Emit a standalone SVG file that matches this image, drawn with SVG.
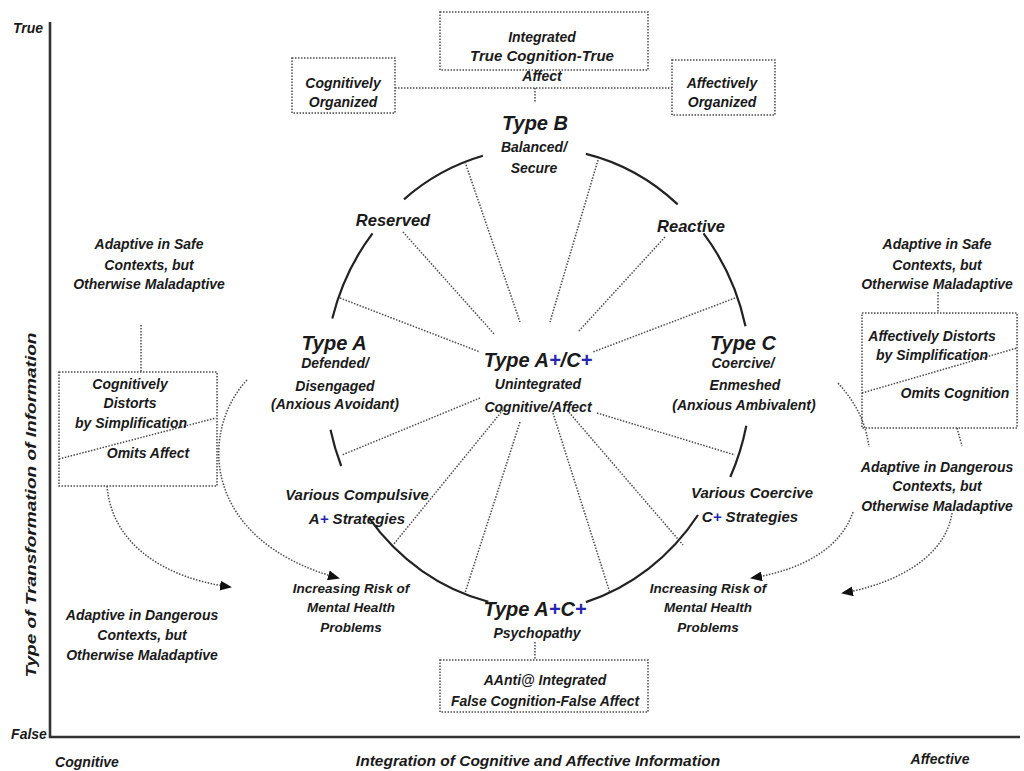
<svg xmlns="http://www.w3.org/2000/svg" width="1024" height="771" viewBox="0 0 1024 771">
<style>
.t{font-family:"Liberation Sans",Arial,sans-serif;font-weight:bold;font-style:italic;fill:#1a1a1a;text-anchor:middle}
.big{font-size:20px}
.lab{font-size:16.5px}
.mid{font-size:15px}
.sub{font-size:14px}
.ax{font-size:15.5px}
.sm{font-size:13.5px}
.bl{fill:#2626b0}
.dot{fill:none;stroke:#4a4a4a;stroke-width:1.5;stroke-dasharray:1.5 1.5}
.box{fill:none;stroke:#4a4a4a;stroke-width:1.5;stroke-dasharray:1.5 1.5}
.arc{fill:none;stroke:#222;stroke-width:2.2}
.axis{stroke:#333;stroke-width:2.6;fill:none}
</style>
<defs>
<marker id="ah" markerUnits="userSpaceOnUse" markerWidth="12" markerHeight="10" refX="10" refY="5" orient="auto">
<path d="M0,0 L12,5 L0,10 z" fill="#111"/>
</marker>
</defs>
<rect width="1024" height="771" fill="#fff"/>

<g id="axes">
<path class="axis" d="M50,22 V737 H1020"/>
<text class="t sub" x="28" y="33">True</text>
<text class="t sub" x="29" y="739">False</text>
<text class="t sub" x="87" y="767">Cognitive</text>
<text class="t ax" x="538" y="766">Integration of Cognitive and Affective Information</text>
<text class="t sub" x="940" y="764">Affective</text>
<text class="t ax" transform="translate(36,505) rotate(-90)" textLength="345" lengthAdjust="spacingAndGlyphs">Type of Transformation of Information</text>
</g>

<g id="connectors">
<path class="arc" d="M404,199.3 A213,230 0 0 1 482.9,155.8"/>
<path class="arc" d="M585.9,153.9 A213,230 0 0 1 677.7,204.4"/>
<path class="arc" d="M332.3,318.5 A213,230 0 0 1 372.5,233.3"/>
<path class="arc" d="M703.5,233.3 A213,230 0 0 1 745.5,326.3"/>
<path class="arc" d="M341.2,466 A213,230 0 0 1 330.5,429.8"/>
<path class="arc" d="M746.3,425.8 A213,230 0 0 1 730.3,477"/>
<path class="arc" d="M488.3,601.7 A213,230 0 0 1 368.8,517.7"/>
<path class="arc" d="M698,515 A213,230 0 0 1 585.9,602.1"/>

<path class="dot" d="M465,162 L520,322"/>
<path class="dot" d="M598,160 L550,322"/>
<path class="dot" d="M403,232 L495,335"/>
<path class="dot" d="M665,237 L578,332"/>
<path class="dot" d="M340,298 L480,352"/>
<path class="dot" d="M735,298 L593,352"/>
<path class="dot" d="M480,398 L342,455"/>
<path class="dot" d="M597,413 L735,455"/>
<path class="dot" d="M503,410 L393,545"/>
<path class="dot" d="M520,422 L465,593"/>
<path class="dot" d="M553,413 L610,593"/>
<path class="dot" d="M567,410 L683,545"/>

<path class="dot" d="M395,88 H672"/>
<path class="dot" d="M535,88 V102"/>
<path class="dot" d="M535,642 V660"/>
<path class="dot" d="M141,325 V372"/>
<path class="dot" d="M938,292 V313"/>
<path class="dot" d="M59,459 L216,418"/>
<path class="dot" d="M862,393 L1017,348"/>

<path class="dot" d="M107,486 C112,545 165,578 230,587" marker-end="url(#ah)"/>
<path class="dot" d="M247,380 C200,430 200,540 338,578" marker-end="url(#ah)"/>
<path class="dot" d="M957,428 L962,446"/>
<path class="dot" d="M952,513 C945,560 890,585 843,593" marker-end="url(#ah)"/>
<path class="dot" d="M838,383 C858,405 866,425 869,447"/>
<path class="dot" d="M853,512 C840,550 800,570 752,578" marker-end="url(#ah)"/>
</g>

<g id="node-integrated">
<rect class="box" x="440" y="12" width="208" height="58"/>
<text class="t sub" x="542" y="42">Integrated</text>
<text class="t sub" x="542" y="61" textLength="144" lengthAdjust="spacingAndGlyphs">True Cognition-True</text>
<text class="t sub" x="542" y="81">Affect</text>
</g>
<g id="node-cog-org">
<rect class="box" x="292" y="58" width="103" height="55"/>
<text class="t sub" x="343" y="88">Cognitively</text>
<text class="t sub" x="343" y="107">Organized</text>
</g>
<g id="node-aff-org">
<rect class="box" x="672" y="60" width="103" height="55"/>
<text class="t sub" x="722" y="88">Affectively</text>
<text class="t sub" x="722" y="107">Organized</text>
</g>
<g id="node-typeB">
<text class="t big" x="535" y="130">Type B</text>
<text class="t sub" x="534" y="152">Balanced/</text>
<text class="t sub" x="534" y="173">Secure</text>
</g>
<g id="node-reserved"><text class="t lab" x="393" y="226">Reserved</text></g>
<g id="node-reactive"><text class="t lab" x="691" y="232">Reactive</text></g>
<g id="node-typeA">
<text class="t big" x="334" y="350">Type A</text>
<text class="t sub" x="335" y="368">Defended/</text>
<text class="t sub" x="335" y="391">Disengaged</text>
<text class="t sub" x="335" y="409">(Anxious Avoidant)</text>
</g>
<g id="node-typeAC">
<text class="t big" x="538" y="367">Type A<tspan class="bl">+</tspan>/C<tspan class="bl">+</tspan></text>
<text class="t sub" x="538" y="389">Unintegrated</text>
<text class="t sub" x="538" y="412">Cognitive/Affect</text>
</g>
<g id="node-typeC">
<text class="t big" x="743" y="350">Type C</text>
<text class="t sub" x="743" y="368">Coercive/</text>
<text class="t sub" x="745" y="390">Enmeshed</text>
<text class="t sub" x="744" y="410">(Anxious Ambivalent)</text>
</g>
<g id="node-compulsive">
<text class="t mid" x="357" y="500">Various Compulsive</text>
<text class="t mid" x="357" y="524">A<tspan class="bl">+</tspan> Strategies</text>
</g>
<g id="node-coercive">
<text class="t mid" x="752" y="498">Various Coercive</text>
<text class="t mid" x="750" y="522">C<tspan class="bl">+</tspan> Strategies</text>
</g>
<g id="node-typeApC">
<text class="t big" x="535" y="616">Type A<tspan class="bl">+</tspan>C<tspan class="bl">+</tspan></text>
<text class="t sub" x="537" y="638">Psychopathy</text>
</g>
<g id="node-anti">
<rect class="box" x="440" y="660" width="208" height="52"/>
<text class="t sub" x="545" y="685">AAnti@ Integrated</text>
<text class="t sub" x="545" y="706">False Cognition-False Affect</text>
</g>
<g id="node-risk-left">
<text class="t sm" x="351" y="593">Increasing Risk of</text>
<text class="t sm" x="351" y="612">Mental Health</text>
<text class="t sm" x="351" y="632">Problems</text>
</g>
<g id="node-risk-right">
<text class="t sm" x="708" y="593">Increasing Risk of</text>
<text class="t sm" x="708" y="612">Mental Health</text>
<text class="t sm" x="708" y="632">Problems</text>
</g>
<g id="node-safe-left">
<text class="t sub" x="149" y="249">Adaptive in Safe</text>
<text class="t sub" x="149" y="270">Contexts, but</text>
<text class="t sub" x="149" y="289">Otherwise Maladaptive</text>
</g>
<g id="node-cog-distorts">
<rect class="box" x="59" y="372" width="158" height="114"/>
<text class="t sub" x="130" y="389">Cognitively</text>
<text class="t sub" x="130" y="408">Distorts</text>
<text class="t sub" x="131" y="428">by Simplification</text>
<text class="t sub" x="148" y="458">Omits Affect</text>
</g>
<g id="node-danger-left">
<text class="t sub" x="142" y="620">Adaptive in Dangerous</text>
<text class="t sub" x="142" y="640">Contexts, but</text>
<text class="t sub" x="142" y="660">Otherwise Maladaptive</text>
</g>
<g id="node-safe-right">
<text class="t sub" x="937" y="249">Adaptive in Safe</text>
<text class="t sub" x="937" y="270">Contexts, but</text>
<text class="t sub" x="937" y="289">Otherwise Maladaptive</text>
</g>
<g id="node-aff-distorts">
<rect class="box" x="862" y="313" width="155" height="115"/>
<text class="t sub" x="932" y="341">Affectively Distorts</text>
<text class="t sub" x="932" y="360">by Simplification</text>
<text class="t sub" x="955" y="398">Omits Cognition</text>
</g>
<g id="node-danger-right">
<text class="t sub" x="937" y="472">Adaptive in Dangerous</text>
<text class="t sub" x="937" y="491">Contexts, but</text>
<text class="t sub" x="937" y="511">Otherwise Maladaptive</text>
</g>
</svg>
